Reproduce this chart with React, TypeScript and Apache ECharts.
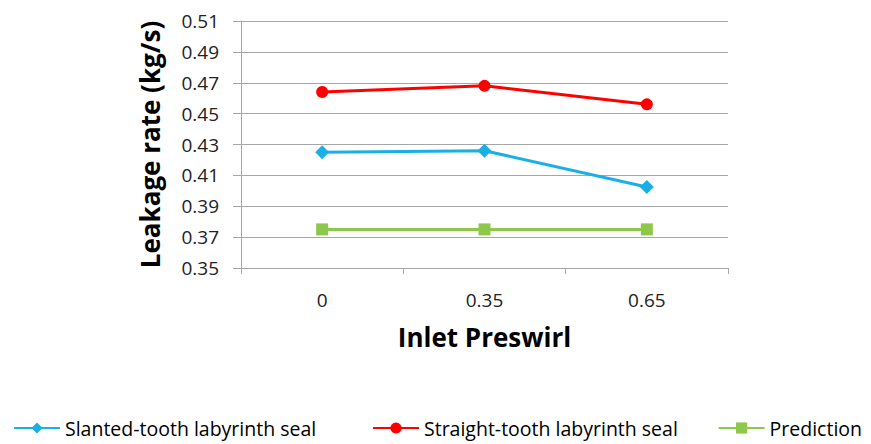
import React, { useEffect, useRef } from "react";
import * as echarts from "echarts";

const categories = ["0", "0.35", "0.65"];
const seriesNames = [
  "Slanted-tooth labyrinth seal",
  "Straight-tooth labyrinth seal",
  "Prediction",
];
const slanted = [0.425, 0.426, 0.4025];
const straight = [0.464, 0.468, 0.456];
const prediction = [0.375, 0.375, 0.375];
const yMin = 0.35;
const yMax = 0.51;
const yStep = 0.02;

// axis is drawn in hundredths relative to yMin so ticks start exactly at yMin
const toAxis = (v: number) => Math.round((v - yMin) * 10000) / 100;

export default function App() {
  const ref = useRef<HTMLDivElement>(null);
  useEffect(() => {
    document.body.style.margin = "0";
    const chart = echarts.init(ref.current!, null, { renderer: "svg" });
    const font = "Open Sans";
    const grid = "#a6a6a6";
    const legendBase = {
      top: 411,
      itemWidth: 46,
      itemHeight: 14,
      textStyle: { fontFamily: font, fontSize: 19.5, color: "#000", lineHeight: 24 },
    };
    chart.setOption({
      animation: false,
      backgroundColor: "#ffffff",
      grid: { left: 241, right: 143, top: 21, bottom: 176 },
      legend: [
        { ...legendBase, left: 8, data: [seriesNames[0]] },
        { ...legendBase, left: 367, data: [seriesNames[1]] },
        { ...legendBase, right: 4, data: [seriesNames[2]] },
      ],
      xAxis: {
        type: "category",
        data: categories,
        boundaryGap: true,
        name: "Inlet Preswirl",
        nameLocation: "middle",
        nameGap: 56,
        nameTextStyle: { fontFamily: font, fontSize: 26, fontWeight: "bold", color: "#000" },
        axisLine: { lineStyle: { color: grid, width: 1 } },
        axisTick: { show: true, length: 6, lineStyle: { color: grid } },
        axisLabel: { margin: 22, fontFamily: font, fontSize: 19, color: "#222" },
        splitLine: { show: false },
      },
      yAxis: {
        type: "value",
        min: 0,
        max: toAxis(yMax),
        interval: toAxis(yMin + yStep),
        name: "Leakage rate (kg/s)",
        nameLocation: "middle",
        nameGap: 78,
        nameTextStyle: { fontFamily: font, fontSize: 26, fontWeight: "bold", color: "#000" },
        axisLine: { show: true, lineStyle: { color: grid, width: 1 } },
        axisTick: { show: true, length: 8, lineStyle: { color: grid } },
        axisLabel: {
          margin: 22,
          fontFamily: font,
          fontSize: 19,
          color: "#222",
          formatter: (v: number) => (yMin + v / 100).toFixed(2),
        },
        splitLine: { show: true, lineStyle: { color: grid, width: 1 } },
      },
      series: [
        {
          name: seriesNames[0],
          type: "line",
          data: slanted.map(toAxis),
          symbol: "diamond",
          symbolSize: 14,
          itemStyle: { color: "#1AAFE6" },
          lineStyle: { color: "#1AAFE6", width: 3 },
        },
        {
          name: seriesNames[1],
          type: "line",
          data: straight.map(toAxis),
          symbol: "circle",
          symbolSize: 12,
          itemStyle: { color: "#FF0000" },
          lineStyle: { color: "#FF0000", width: 3 },
        },
        {
          name: seriesNames[2],
          type: "line",
          data: prediction.map(toAxis),
          symbol: "rect",
          symbolSize: 12,
          itemStyle: { color: "#8DC84B" },
          lineStyle: { color: "#8DC84B", width: 3 },
        },
      ],
    });
    return () => chart.dispose();
  }, []);
  return <div ref={ref} style={{ width: 871, height: 444 }} />;
}
